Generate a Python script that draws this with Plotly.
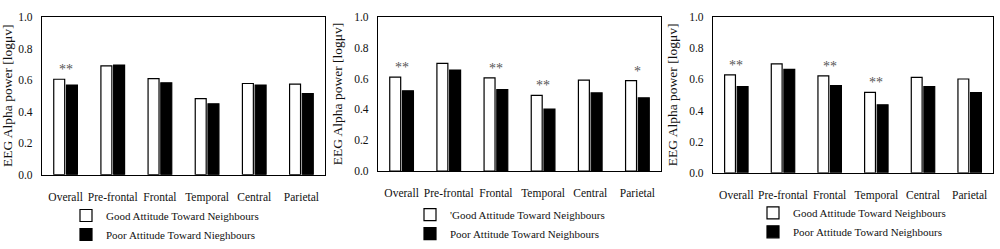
import plotly.graph_objects as go

categories = ["Overall", "Pre-frontal", "Frontal", "Temporal", "Central", "Parietal"]

good_1 = [0.605, 0.690, 0.609, 0.482, 0.578, 0.574]
poor_1 = [0.568, 0.695, 0.582, 0.449, 0.568, 0.514]
good_2 = [0.609, 0.698, 0.605, 0.491, 0.590, 0.586]
poor_2 = [0.521, 0.655, 0.528, 0.402, 0.507, 0.475]
good_3 = [0.629, 0.699, 0.622, 0.516, 0.612, 0.602]
poor_3 = [0.553, 0.664, 0.559, 0.436, 0.553, 0.515]

sig_1 = ["**", "", "", "", "", ""]
sig_2 = ["**", "", "**", "**", "", "*"]
sig_3 = ["**", "", "**", "**", "", ""]

good_names = ["Good Attitude Toward Neighbours", "'Good Attitude Toward Neighbours", "Good Attitude Toward Neighbours"]
poor_names = ["Poor Attitude Toward Nieghbours", "Poor Attitude Toward Neighbours", "Poor Attitude Toward Neighbours"]

y_ticks = [0.0, 0.2, 0.4, 0.6, 0.8, 1.0]
y_title = "EEG Alpha power [logμv]"

W, H = 1000, 249
panels = [
    dict(good=good_1, poor=poor_1, sig=sig_1, box=(42, 325, 12, 185), leg=(66, 214)),
    dict(good=good_2, poor=poor_2, sig=sig_2, box=(378, 661, 12, 181), leg=(410, 213)),
    dict(good=good_3, poor=poor_3, sig=sig_3, box=(713, 993, 12, 183), leg=(753, 211)),
]

FONT = "Liberation Serif"
fig = go.Figure()
layout = dict(
    width=W, height=H, margin=dict(l=0, r=0, t=0, b=0),
    paper_bgcolor="white", plot_bgcolor="white",
    barmode="group", bargap=0.46, bargroupgap=0.14,
    font=dict(family=FONT, size=12, color="#222"),
    annotations=[],
)

for i, p in enumerate(panels):
    n = "" if i == 0 else str(i + 1)
    xa, ya = "x" + n, "y" + n
    leg = "legend" + n
    fig.add_trace(go.Bar(
        x=categories, y=p["good"], name=good_names[i], xaxis=xa, yaxis=ya,
        marker=dict(color="white", line=dict(color="black", width=1.2)),
        legend=leg,
    ))
    fig.add_trace(go.Bar(
        x=categories, y=p["poor"], name=poor_names[i], xaxis=xa, yaxis=ya,
        marker=dict(color="black", line=dict(color="black", width=1.2)),
        legend=leg,
    ))
    x0, x1, y0, y1 = p["box"]
    layout["xaxis" + n] = dict(
        domain=[x0 / W, x1 / W], anchor=ya, showline=True, linecolor="black",
        linewidth=1.2, mirror=True, showgrid=False, ticks="",
        ticklabelstandoff=11,
        tickfont=dict(family=FONT, size=11.5, color="#111"),
    )
    layout["yaxis" + n] = dict(
        domain=[1 - y1 / H, 1 - y0 / H], anchor=xa, range=[0, 1.0],
        tickvals=y_ticks, tickformat=".1f", showline=True, linecolor="black",
        linewidth=1.2, mirror=True, showgrid=False, zeroline=False, ticks="",
        ticklabelstandoff=6,
        tickfont=dict(family=FONT, size=11.5, color="#111"),
        title=dict(text=y_title, standoff=8, font=dict(family=FONT, size=13.5, color="#111")),
    )
    lx, ly = p["leg"]
    layout[leg] = dict(
        x=lx / W, y=1 - ly / H, xanchor="left", yanchor="top",
        xref="paper", yref="paper", bgcolor="rgba(0,0,0,0)",
        font=dict(family=FONT, size=11, color="#111"), tracegroupgap=0,
        traceorder="normal",
    )
    for c, s, g, q in zip(categories, p["sig"], p["good"], p["poor"]):
        if s:
            layout["annotations"].append(dict(
                x=c, y=max(g, q), xref=xa, yref=ya, text=s, showarrow=False,
                yanchor="bottom", yshift=0,
                font=dict(family=FONT, size=14, color="#555"),
            ))

fig.update_layout(**layout)
fig.write_html("out.html")
